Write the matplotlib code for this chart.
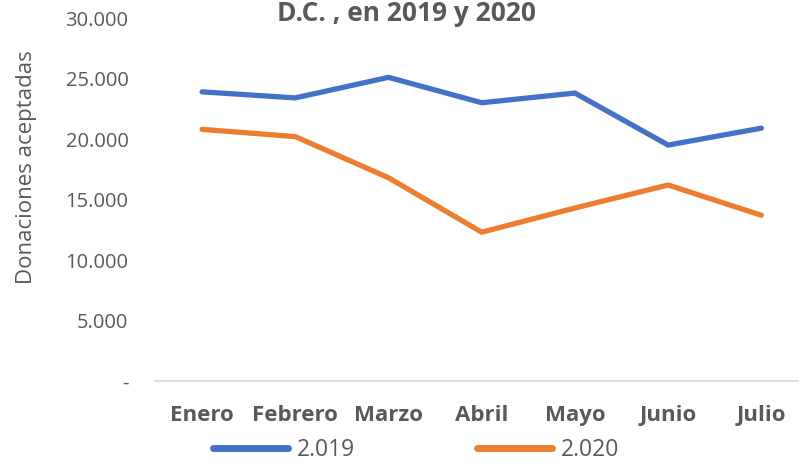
import matplotlib
matplotlib.use("Agg")
import matplotlib.pyplot as plt
from matplotlib.ticker import FuncFormatter

meses = ["Enero", "Febrero", "Marzo", "Abril", "Mayo", "Junio", "Julio"]
d2019 = [23900, 23400, 25100, 23000, 23800, 19500, 20900]
d2020 = [20800, 20200, 16800, 12300, 14300, 16200, 13700]

gris = "#595959"
plt.rcParams['font.family'] = ['Open Sans', 'DejaVu Sans']

fig = plt.figure(figsize=(7.99, 4.65), dpi=100)
ax = fig.add_axes([0.1946, 0.1806, 0.8166, 0.7806])

x = list(range(len(meses)))
ax.plot(x, d2019, color="#4472C4", lw=3.8, solid_capstyle='round', label="2.019")
ax.plot(x, d2020, color="#ED7D31", lw=3.8, solid_capstyle='round', label="2.020")

ax.set_xlim(-0.5, len(meses) - 0.5)
ax.set_ylim(0, 30000)
ax.set_yticks(range(0, 30001, 5000))
ax.yaxis.set_major_formatter(FuncFormatter(
    lambda v, p: "-" if v == 0 else f"{int(v):,}".replace(",", ".")))
ax.set_xticks(x)
ax.set_xticklabels(meses, fontweight='bold')

for s in ["top", "right", "left"]:
    ax.spines[s].set_visible(False)
ax.spines["bottom"].set_color("#D9D9D9")
ax.spines["bottom"].set_linewidth(1.2)
ax.tick_params(axis='y', length=0, pad=19.5, labelsize=14.5, labelcolor=gris)
ax.tick_params(axis='x', length=0, pad=17.5, labelsize=16, labelcolor=gris)

fig.text(27 / 799, 1 - 167 / 465, "Donaciones aceptadas", rotation=90,
         ha='center', va='center', fontsize=16, color=gris)

# primera linea del titulo queda fuera del recorte original
fig.text(0.509, 0.999, "D.C. , en 2019 y 2020", ha='center',
         va='top', fontsize=19, fontweight='bold', color=gris)

leg = fig.legend(loc='center', bbox_to_anchor=(0.521, 15 / 465), ncol=2,
                 frameon=False, fontsize=16.5, handlelength=3.27,
                 columnspacing=5.3, handletextpad=0.4, borderpad=0)
for t in leg.get_texts():
    t.set_color(gris)
for h in leg.get_lines():
    h.set_linewidth(5)

fig.savefig("out.png", dpi=100)
